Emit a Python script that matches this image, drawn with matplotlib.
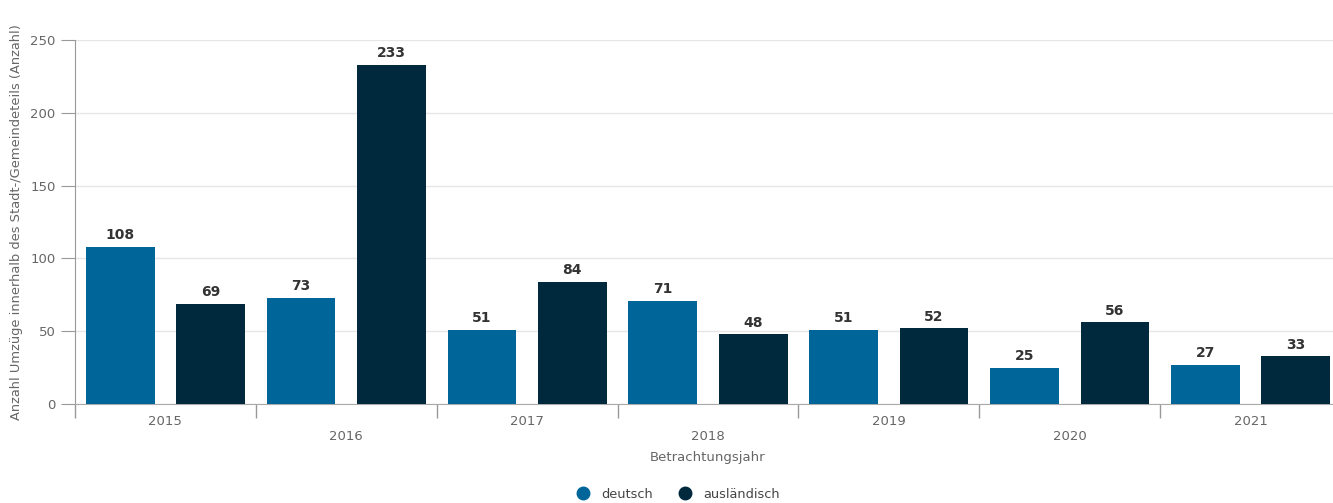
import matplotlib.pyplot as plt
import numpy as np

years = ["2015", "2016", "2017", "2018", "2019", "2020", "2021"]
deutsch = [108, 73, 51, 71, 51, 25, 27]
auslaendisch = [69, 233, 84, 48, 52, 56, 33]

c_de = "#006699"
c_au = "#00293d"
grey = "#666666"

fig = plt.figure(figsize=(13.33, 5.03), dpi=100)
ax = fig.add_axes([75 / 1333, 1 - 404 / 503, 1266 / 1333, 364 / 503])

x = np.arange(len(years))
w = 0.38
b1 = ax.bar(x - 0.25, deutsch, w, color=c_de, label="deutsch", zorder=3)
b2 = ax.bar(x + 0.25, auslaendisch, w, color=c_au, label="ausländisch", zorder=3)

for bars, vals in ((b1, deutsch), (b2, auslaendisch)):
    for r, v in zip(bars, vals):
        ax.text(r.get_x() + r.get_width() / 2, v + 3, str(v), ha="center", va="bottom",
                fontsize=10, fontweight="bold", color="#333333")

ax.set_xlim(-0.5, 6.5)
ax.set_ylim(0, 250)
ax.set_yticks(range(0, 251, 50))
ax.yaxis.grid(True, color="#e6e6e6", linewidth=1, zorder=0)

# staggered year labels
labels = [y if i % 2 == 0 else "\n" + y for i, y in enumerate(years)]
ax.set_xticks(x)
ax.set_xticklabels(labels)
ax.tick_params(axis="x", which="major", length=0, pad=8, labelsize=9.5, labelcolor=grey)
ax.set_xticks(np.arange(-0.5, 6.6, 1), minor=True)
ax.tick_params(axis="x", which="minor", length=10, color="#999999", width=1)
ax.tick_params(axis="y", length=10, color="#999999", labelsize=9.5, labelcolor=grey, pad=4)

for s in ("top", "right"):
    ax.spines[s].set_visible(False)
ax.spines["left"].set_color("#999999")
ax.spines["bottom"].set_color("#aaaaaa")

ax.set_ylabel("Anzahl Umzüge innerhalb des Stadt-/Gemeindeteils (Anzahl)", fontsize=9.4,
              color=grey, labelpad=5)
ax.set_xlabel("Betrachtungsjahr", fontsize=9.5, color=grey, labelpad=6)

h = [plt.Line2D([], [], marker="o", linestyle="", markersize=9, color=c) for c in (c_de, c_au)]
fig.legend(h, ["deutsch", "ausländisch"], loc="center", bbox_to_anchor=(675 / 1333, 1 - 494 / 503),
           ncol=2, frameon=False, fontsize=9.3, labelcolor="#444444", handletextpad=0.4,
           columnspacing=1.5)

fig.savefig("out.png", dpi=100)
